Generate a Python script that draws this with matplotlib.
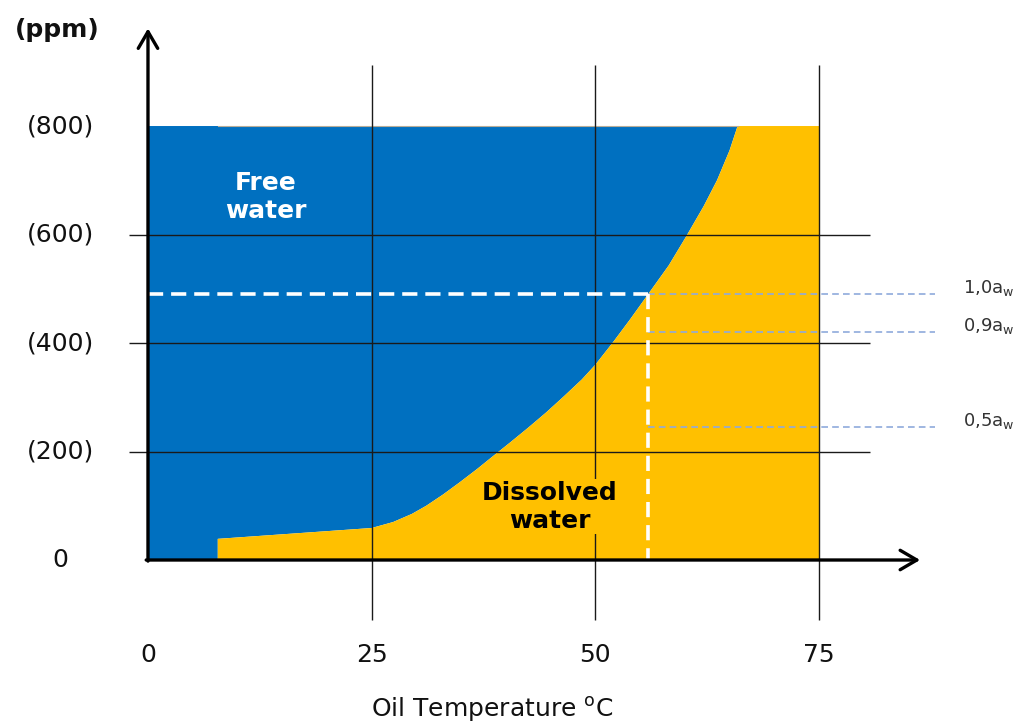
import numpy as np
import matplotlib
matplotlib.use('Agg')
import matplotlib.pyplot as plt

# saturation curve (oil temperature in C, water content in ppm)
curve_temp = [7.8, 25, 27.4, 29.5, 31.1, 33, 34.9, 36.8, 38.6, 40.5, 42.5, 44.5, 46.5, 48.5, 50,
              52, 53.9, 55.9, 58.2, 60.1, 62.1, 63.6, 65.0, 65.9]
curve_ppm = [39, 59, 70, 85, 100, 121, 144, 168, 192, 217, 244, 272, 302, 333, 360,
             402, 444, 490, 543, 595, 652, 700, 755, 800]

x_ticks = [0, 25, 50, 75]
x_labels = ['0', '25', '50', '75']
y_ticks = [0, 200, 400, 600, 800]
y_labels = ['0', '(200)', '(400)', '(600)', '(800)']

# water activity levels
aw_labels = ['1,0a$_\\mathregular{w}$', '0,9a$_\\mathregular{w}$', '0,5a$_\\mathregular{w}$']
aw_ppm = [490, 420, 245]

t_max = 75
ppm_max = 800
t_sat = 55.9   # temperature where 1,0 aw is reached

blue = '#0070C0'
yellow = '#FFC000'

fig = plt.figure(figsize=(10.24, 7.24), dpi=100)
ax = fig.add_axes([0, 0, 1, 1])
ax.set_xlim(-16.54, 97.91)
ax.set_ylim(-302.3, 1032.3)
ax.axis('off')

# regions
blue_x = [0, curve_temp[0]] + curve_temp + [0]
blue_y = [0, 0] + curve_ppm + [ppm_max]
ax.fill(blue_x, blue_y, color=blue, lw=0, zorder=1)
yel_x = [curve_temp[0], t_max, t_max] + curve_temp[::-1]
yel_y = [0, 0, ppm_max] + curve_ppm[::-1]
ax.fill(yel_x, yel_y, color=yellow, lw=0, zorder=1)
ax.plot([curve_temp[0], curve_temp[-1]], [ppm_max, ppm_max], color='#b8ad98', lw=0.8, zorder=1.5)

# grid
ax.vlines(x_ticks[1:], -110, 912, color='#1a1a1a', lw=1.0, zorder=2)
ax.hlines(y_ticks[1:-1], -2.1, 80.7, color='#1a1a1a', lw=1.0, zorder=2)

# aw lines
for lab, p in zip(aw_labels, aw_ppm):
    ax.plot([t_sat, 88], [p, p], color='#8FAADC', lw=1.2, dashes=(4, 2.5), zorder=3)
    ax.text(91.1, p + 2, lab, fontsize=13, color='#333333', ha='left', va='baseline')

ax.plot([0, t_sat], [aw_ppm[0], aw_ppm[0]], color='white', lw=2.6, dashes=(4.2, 2.2), zorder=4)
ax.plot([t_sat, t_sat], [aw_ppm[0], 0], color='white', lw=2.6, dashes=(4.2, 2.2), zorder=4)

# axes with arrows
arrow = dict(arrowstyle='->, head_length=0.6, head_width=0.35', lw=2.4, color='black',
             mutation_scale=20, shrinkA=0, shrinkB=0)
ax.annotate('', xy=(0, 980), xytext=(0, -2), arrowprops=arrow, zorder=5)
ax.annotate('', xy=(86.3, 0), xytext=(-0.2, 0), arrowprops=arrow, zorder=5)

for t, lab in zip(x_ticks, x_labels):
    ax.text(t, -175, lab, fontsize=18, color='#111111', ha='center', va='center')
for p, lab in zip(y_ticks, y_labels):
    ax.text(-9.8, p, lab, fontsize=18, color='#111111', ha='center', va='center')

ax.text(-10.1, 977, '(ppm)', fontsize=18, fontweight='bold', color='#111111', ha='center', va='center')
ax.text(38.5, -289, 'Oil Temperature $^{\\mathregular{o}}$C', fontsize=18, color='#111111',
        ha='center', va='baseline')

ax.text(13.2, 669, 'Free\nwater', fontsize=18, fontweight='bold', color='white',
        ha='center', va='center', zorder=6)
ax.text(44.9, 98, 'Dissolved\nwater', fontsize=18, fontweight='bold', color='black',
        ha='center', va='center', zorder=6,
        bbox=dict(facecolor=yellow, edgecolor='none', pad=1))

plt.savefig('out.png', dpi=100)
